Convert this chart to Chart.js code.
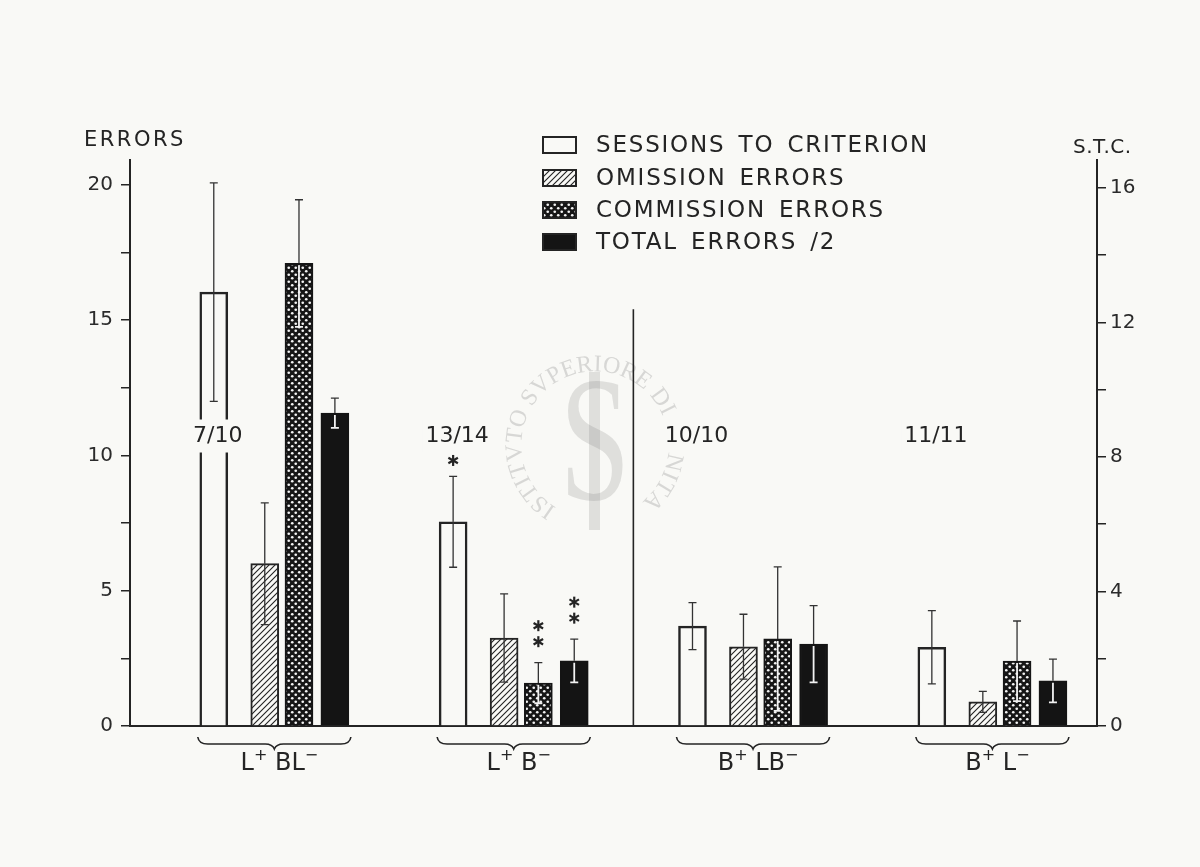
<!DOCTYPE html>
<html><head><meta charset="utf-8">
<script src="https://cdn.jsdelivr.net/npm/chart.js@4.4.1/dist/chart.umd.min.js"></script>
<style>html,body{margin:0;padding:0;background:#f9f9f6;overflow:hidden}#wrap{width:1200px;height:867px}</style>
</head><body><div id="wrap"><canvas id="chart" width="1200" height="867"></canvas></div>
<script>
// ---------------- data ----------------
const categories = ['L⁺ BL⁻', 'L⁺ B⁻', 'B⁺ LB⁻', 'B⁺ L⁻'];
const criterionRatio = ['7/10', '13/14', '10/10', '11/11'];
const seriesNames = ['SESSIONS TO CRITERION', 'OMISSION ERRORS', 'COMMISSION ERRORS', 'TOTAL ERRORS /2'];
const sessionsToCriterion = [12.9, 6.07, 2.97, 2.34];   // S.T.C. (right axis)
const sessionsErr = [3.25, 1.35, 0.70, 1.09];
const omissionErrors = [6.0, 3.25, 2.93, 0.89];
const omissionErr = [2.25, 1.63, 1.20, 0.39];
const commissionErrors = [17.1, 1.59, 3.22, 2.40];
const commissionErr = [2.35, 0.75, 2.66, 1.48];
const totalErrorsHalf = [11.57, 2.41, 3.03, 1.67];
const totalErr = [0.55, 0.80, 1.42, 0.80];
const sessionsSig = ['', '*', '', ''];
const omissionSig = ['', '', '', ''];
const commissionSig = ['', '**', '', ''];
const totalSig = ['', '**', '', ''];
const errorsTickLabels = [0, 5, 10, 15, 20];
const stcTickLabels = [0, 4, 8, 12, 16];
const leftTitle = 'ERRORS';
const rightTitle = 'S.T.C.';
const watermarkText = 'ISTITVTO SVPERIORE DI SANITA';

// ---------------- styling / layout ----------------
const INK = '#242424';
const PAPER = '#f9f9f6';
const FONT = '"DejaVu Sans", sans-serif';
const seriesOffset = [0, 0.213, 0.356, 0.506];

const canvas = document.getElementById('chart');
const ctx0 = canvas.getContext('2d');

function hatchPattern() {
  const c = document.createElement('canvas'); c.width = 6; c.height = 6;
  const g = c.getContext('2d');
  g.fillStyle = PAPER; g.fillRect(0, 0, 6, 6);
  g.strokeStyle = '#222'; g.lineWidth = 1.1;
  g.beginPath();
  g.moveTo(-1, 7); g.lineTo(7, -1);
  g.moveTo(-1, 1); g.lineTo(1, -1);
  g.moveTo(5, 7); g.lineTo(7, 5);
  g.stroke();
  return ctx0.createPattern(c, 'repeat');
}
function dotPattern() {
  const c = document.createElement('canvas'); c.width = 7; c.height = 7;
  const g = c.getContext('2d');
  g.fillStyle = '#161616'; g.fillRect(0, 0, 7, 7);
  g.fillStyle = '#f4f4f4';
  g.beginPath(); g.arc(1.75, 1.75, 1.35, 0, Math.PI * 2); g.fill();
  g.beginPath(); g.arc(5.25, 5.25, 1.35, 0, Math.PI * 2); g.fill();
  return ctx0.createPattern(c, 'repeat');
}
const hatch = hatchPattern();
const dots = dotPattern();

const styles = [
  { bg: PAPER, border: INK, bw: 2.5, dark: false },
  { bg: hatch, border: INK, bw: 2, dark: false },
  { bg: dots, border: '#161616', bw: 2, dark: true },
  { bg: '#141414', border: '#141414', bw: 2, dark: true }
];
const seriesValues = [sessionsToCriterion, omissionErrors, commissionErrors, totalErrorsHalf];
const seriesErrs = [sessionsErr, omissionErr, commissionErr, totalErr];
const seriesSig = [sessionsSig, omissionSig, commissionSig, totalSig];
const seriesAxis = ['y2', 'y', 'y', 'y'];

const datasets = seriesValues.map((vals, s) => ({
  label: seriesNames[s],
  data: vals.map((v, i) => ({ x: i + seriesOffset[s], y: v })),
  yAxisID: seriesAxis[s],
  backgroundColor: styles[s].bg,
  borderColor: styles[s].border,
  borderWidth: styles[s].bw,
  borderSkipped: 'bottom',
  grouped: false,
  barPercentage: 1,
  categoryPercentage: 1,
  maxBarThickness: 28,
  errors: seriesErrs[s],
  sig: seriesSig[s],
  dark: styles[s].dark
}));

function drawRich(ctx, text, cx, baseline, size) {
  const supSize = Math.round(size * 0.65);
  const parts = [...text].map(ch => {
    if (ch === '⁺') return { t: '+', sup: true };
    if (ch === '⁻') return { t: '−', sup: true };
    return { t: ch, sup: false };
  });
  let total = 0;
  parts.forEach(p => { ctx.font = (p.sup ? supSize : size) + 'px ' + FONT; p.w = ctx.measureText(p.t).width; total += p.w; });
  let x = cx - total / 2;
  ctx.textAlign = 'left'; ctx.textBaseline = 'alphabetic';
  parts.forEach(p => {
    ctx.font = (p.sup ? supSize : size) + 'px ' + FONT;
    ctx.fillText(p.t, x, p.sup ? baseline - size * 0.42 : baseline);
    x += p.w;
  });
}

function drawAsterisk(ctx, x, y) {
  ctx.save();
  ctx.strokeStyle = INK; ctx.lineWidth = 2.2; ctx.lineCap = 'butt';
  const r = 5.5;
  for (let k = 0; k < 3; k++) {
    const a = Math.PI / 2 + k * Math.PI / 3;
    ctx.beginPath();
    ctx.moveTo(x - r * Math.cos(a), y - r * Math.sin(a));
    ctx.lineTo(x + r * Math.cos(a), y + r * Math.sin(a));
    ctx.stroke();
  }
  ctx.restore();
}

function drawBrace(ctx, x1, x2, y) {
  const mid = (x1 + x2) / 2;
  ctx.save();
  ctx.strokeStyle = INK; ctx.lineWidth = 1.6;
  ctx.beginPath();
  ctx.moveTo(x1, y - 7);
  ctx.quadraticCurveTo(x1 + 1, y, x1 + 10, y);
  ctx.lineTo(mid - 9, y);
  ctx.quadraticCurveTo(mid - 2, y, mid, y + 5);
  ctx.quadraticCurveTo(mid + 2, y, mid + 9, y);
  ctx.lineTo(x2 - 10, y);
  ctx.quadraticCurveTo(x2 - 1, y, x2, y - 7);
  ctx.stroke();
  ctx.restore();
}

function drawWatermark(ctx) {
  const cx = 595, cy = 445, r = 80;
  ctx.save();
  ctx.fillStyle = 'rgba(120,120,120,0.26)';
  ctx.font = '24px "Liberation Serif", serif';
  const chars = [...watermarkText];
  const widths = chars.map(ch => ctx.measureText(ch).width);
  const total = widths.reduce((a, b) => a + b, 0);
  const a0 = 122 * Math.PI / 180, a1 = 410 * Math.PI / 180;
  const gap = ((a1 - a0) * r - total) / (chars.length - 1);
  let pos = 0;
  chars.forEach((ch, i) => {
    const ang = a0 + (pos + widths[i] / 2) / r;
    ctx.save();
    ctx.translate(cx + r * Math.cos(ang), cy + r * Math.sin(ang));
    ctx.rotate(ang + Math.PI / 2);
    ctx.textAlign = 'center'; ctx.textBaseline = 'middle';
    ctx.fillText(ch, 0, 0);
    ctx.restore();
    pos += widths[i] + gap;
  });
  // central emblem (staff and serpent)
  ctx.fillStyle = 'rgba(120,120,120,0.2)';
  ctx.fillRect(589, 372, 11, 158);
  ctx.font = '170px "Liberation Serif", serif';
  ctx.textAlign = 'center'; ctx.textBaseline = 'middle';
  ctx.save(); ctx.translate(595, 452); ctx.scale(0.75, 1.05); ctx.fillText('S', 0, 0); ctx.restore();
  ctx.restore();
}

const decor = {
  id: 'decor',
  beforeDraw(chart) {
    const ctx = chart.ctx;
    ctx.save(); ctx.fillStyle = PAPER; ctx.fillRect(0, 0, chart.width, chart.height); ctx.restore();
  },
  beforeDatasetsDraw(chart) {
    const ctx = chart.ctx;
    drawWatermark(ctx);
    // divider between the L+ and B+ conditions
    const xs = chart.scales.x, ys = chart.scales.y;
    const xd = xs.getPixelForValue(((1 + seriesOffset[3]) + 2) / 2);
    ctx.save(); ctx.strokeStyle = INK; ctx.lineWidth = 1.6;
    ctx.beginPath(); ctx.moveTo(xd, ys.getPixelForValue(15.4)); ctx.lineTo(xd, ys.getPixelForValue(0)); ctx.stroke();
    ctx.restore();
  },
  afterDatasetsDraw(chart) {
    const ctx = chart.ctx;
    const xs = chart.scales.x, ys = chart.scales.y;
    // error bars and significance marks
    chart.data.datasets.forEach((ds, di) => {
      const meta = chart.getDatasetMeta(di);
      const vs = chart.scales[ds.yAxisID];
      meta.data.forEach((el, i) => {
        const v = ds.data[i].y, e = ds.errors[i];
        const x = el.x, yTop = vs.getPixelForValue(v + e), yBot = vs.getPixelForValue(v - e), yBar = el.y;
        ctx.save(); ctx.lineWidth = 1.3;
        ctx.strokeStyle = '#333';
        ctx.beginPath(); ctx.moveTo(x, yTop); ctx.lineTo(x, yBar);
        ctx.moveTo(x - 4, yTop); ctx.lineTo(x + 4, yTop); ctx.stroke();
        ctx.strokeStyle = ds.dark ? '#f2f2f2' : '#333';
        ctx.lineWidth = ds.dark ? 1.8 : 1.3;
        ctx.beginPath(); ctx.moveTo(x, yBar + (ds.dark ? 2 : 0)); ctx.lineTo(x, yBot);
        ctx.moveTo(x - 4, yBot); ctx.lineTo(x + 4, yBot); ctx.stroke();
        ctx.restore();
        const sig = ds.sig[i];
        for (let k = 0; k < sig.length; k++) {
          const yy = sig.length === 1 ? yTop - 16 : yTop - 21 - 16 * k;
          drawAsterisk(ctx, x, yy);
        }
      });
    });
    // animals reaching criterion
    ctx.save();
    ctx.font = '22px ' + FONT; ctx.textAlign = 'center'; ctx.textBaseline = 'middle';
    criterionRatio.forEach((t, i) => {
      const x = xs.getPixelForValue(i) + 4, y = ys.getPixelForValue(10.7);
      const w = ctx.measureText(t).width;
      ctx.fillStyle = PAPER; ctx.fillRect(x - w / 2 - 3, y - 17, w + 6, 33);
      ctx.fillStyle = INK; ctx.fillText(t, x, y);
    });
    ctx.restore();
    // braces and group labels
    ctx.save(); ctx.fillStyle = INK;
    categories.forEach((c, i) => {
      const x1 = xs.getPixelForValue(i + seriesOffset[0]) - 16;
      const x2 = xs.getPixelForValue(i + seriesOffset[3]) + 16;
      drawBrace(ctx, x1, x2, 744);
      drawRich(ctx, c, (x1 + x2) / 2 + 5, 770, 24);
    });
    ctx.restore();
    // legend
    const rows = [145, 178, 210, 242];
    ctx.save();
    seriesNames.forEach((n, s) => {
      const y = rows[s];
      ctx.fillStyle = styles[s].bg; ctx.fillRect(543, y - 8, 33, 16);
      ctx.strokeStyle = INK; ctx.lineWidth = 2; ctx.strokeRect(543, y - 8, 33, 16);
      ctx.fillStyle = INK; ctx.font = '23px ' + FONT;
      ctx.letterSpacing = '1.8px'; ctx.wordSpacing = '4px';
      ctx.textAlign = 'left'; ctx.textBaseline = 'middle';
      ctx.fillText(n, 596, y + 1);
    });
    ctx.restore();
    // axis titles
    ctx.save(); ctx.fillStyle = INK; ctx.font = '21px ' + FONT; ctx.textBaseline = 'middle'; ctx.textAlign = 'left';
    ctx.letterSpacing = '2.5px'; ctx.fillText(leftTitle, 84, 141);
    ctx.font = '20px ' + FONT;
    ctx.letterSpacing = '0.5px'; ctx.fillText(rightTitle, 1073, 148);
    ctx.restore();
  }
};

new Chart(canvas, {
  type: 'bar',
  data: { datasets },
  options: {
    responsive: false,
    animation: false,
    layout: { padding: { top: 160, left: 0, right: 0, bottom: 0 } },
    plugins: { legend: { display: false }, tooltip: { enabled: false } },
    scales: {
      x: {
        type: 'linear', min: -0.35, max: 3.69, offset: false,
        grid: { display: false }, ticks: { display: false },
        border: { display: true, color: INK, width: 2 },
        afterFit(s) { s.height = 141; }
      },
      y: {
        position: 'left', min: 0, max: 20.92,
        ticks: { stepSize: 2.5, color: '#2b2b2b', font: { family: 'DejaVu Sans', size: 20 }, padding: 8,
          callback: v => errorsTickLabels.includes(v) ? String(v) : '' },
        afterBuildTicks(s) { s.ticks = s.ticks.filter(t => t.value <= 20.0001); },
        grid: { drawOnChartArea: false, drawTicks: true, tickLength: 9, color: INK, lineWidth: 1.5 },
        border: { display: true, color: INK, width: 2 },
        afterFit(s) { s.width = 130; }
      },
      y2: {
        position: 'right', min: 0, max: 16.83,
        ticks: { stepSize: 2, color: '#2b2b2b', font: { family: 'DejaVu Sans', size: 20 }, padding: 4,
          callback: v => stcTickLabels.includes(v) ? String(v) : '' },
        afterBuildTicks(s) { s.ticks = s.ticks.filter(t => t.value <= 16.0001); },
        grid: { drawOnChartArea: false, drawTicks: true, tickLength: 9, color: INK, lineWidth: 1.5 },
        border: { display: true, color: INK, width: 2 },
        afterFit(s) { s.width = 103; }
      }
    }
  },
  plugins: [decor]
});
</script>
</body></html>
